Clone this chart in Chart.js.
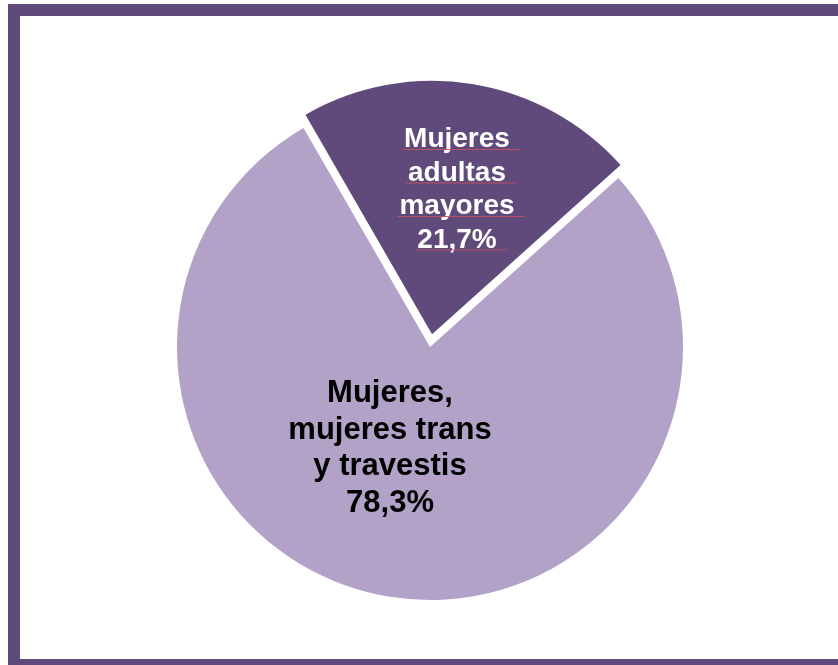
<!DOCTYPE html>
<html>
<head>
<meta charset="utf-8">
<script src="https://cdn.jsdelivr.net/npm/chart.js@4"></script>
<style>
  html, body { margin: 0; padding: 0; background: #fff; }
  body { width: 838px; height: 665px; position: relative; overflow: hidden; }
  .frame {
    position: absolute; left: 8px; top: 4px; width: 860px; height: 667px;
    border: 12px solid #604a7b; box-sizing: border-box; background: #fff;
  }
  #myChart { position: absolute; left: 0; top: 0; }
</style>
</head>
<body>
<div class="frame"></div>
<canvas id="myChart" width="838" height="665"></canvas>
<script>
const categories = ["Mujeres adultas mayores", "Mujeres, mujeres trans y travestis"];
const values = [21.7, 78.3];
const sliceColors = ["#604a7b", "#b3a2c7"];
// label lines for each slice, last line is the percentage
const labelLines = [
  ["Mujeres", "adultas", "mayores"],
  ["Mujeres,", "mujeres trans", "y travestis"]
];

function pct(v) {
  return v.toFixed(1).replace(".", ",") + "%";
}

// draws the text inside the slices
const sliceLabels = {
  id: "sliceLabels",
  afterDatasetsDraw(chart) {
    const ctx = chart.ctx;
    const arcs = chart.getDatasetMeta(0).data;
    const cx = arcs[1].x, cy = arcs[1].y;
    const settings = [
      { dx: 27, dy: -200, size: 28, gap: 33.5, color: "#ffffff", underline: true },
      { dx: -40, dy: 55, size: 31, gap: 36.5, color: "#000000", underline: false }
    ];
    ctx.save();
    ctx.textAlign = "center";
    ctx.textBaseline = "alphabetic";
    settings.forEach((s, i) => {
      const lines = labelLines[i].concat([pct(values[i])]);
      ctx.font = "bold " + s.size + "px 'Liberation Sans', Arial, sans-serif";
      ctx.fillStyle = s.color;
      lines.forEach((line, j) => {
        const y = cy + s.dy + j * s.gap;
        ctx.fillText(line, cx + s.dx, y);
        if (s.underline) {
          const w = ctx.measureText(line + " ").width;
          ctx.strokeStyle = "rgba(200, 80, 100, 0.9)";
          ctx.lineWidth = 1;
          ctx.beginPath();
          ctx.moveTo(cx + s.dx - w / 2 + 2, y + 2.5);
          ctx.lineTo(cx + s.dx + w / 2 + 6, y + 2.5);
          ctx.stroke();
        }
      });
    });
    ctx.restore();
  }
};

const chart = new Chart(document.getElementById("myChart").getContext("2d"), {
  type: "pie",
  data: {
    labels: categories,
    datasets: [
      {
        data: values,
        backgroundColor: sliceColors,
        borderWidth: 0,
        // arc offset is divided by 4 when drawn, so 52 gives about 13px
        offset: [52, 0],
      },
    ],
  },
  options: {
    responsive: false,
    animation: false,
    rotation: -30,
    radius: 253,
    layout: { padding: { left: 22, right: 0, top: 29, bottom: 0 } },
    plugins: {
      legend: { display: false },
      tooltip: { enabled: false },
    },
  },
  plugins: [sliceLabels],
});
</script>
</body>
</html>
